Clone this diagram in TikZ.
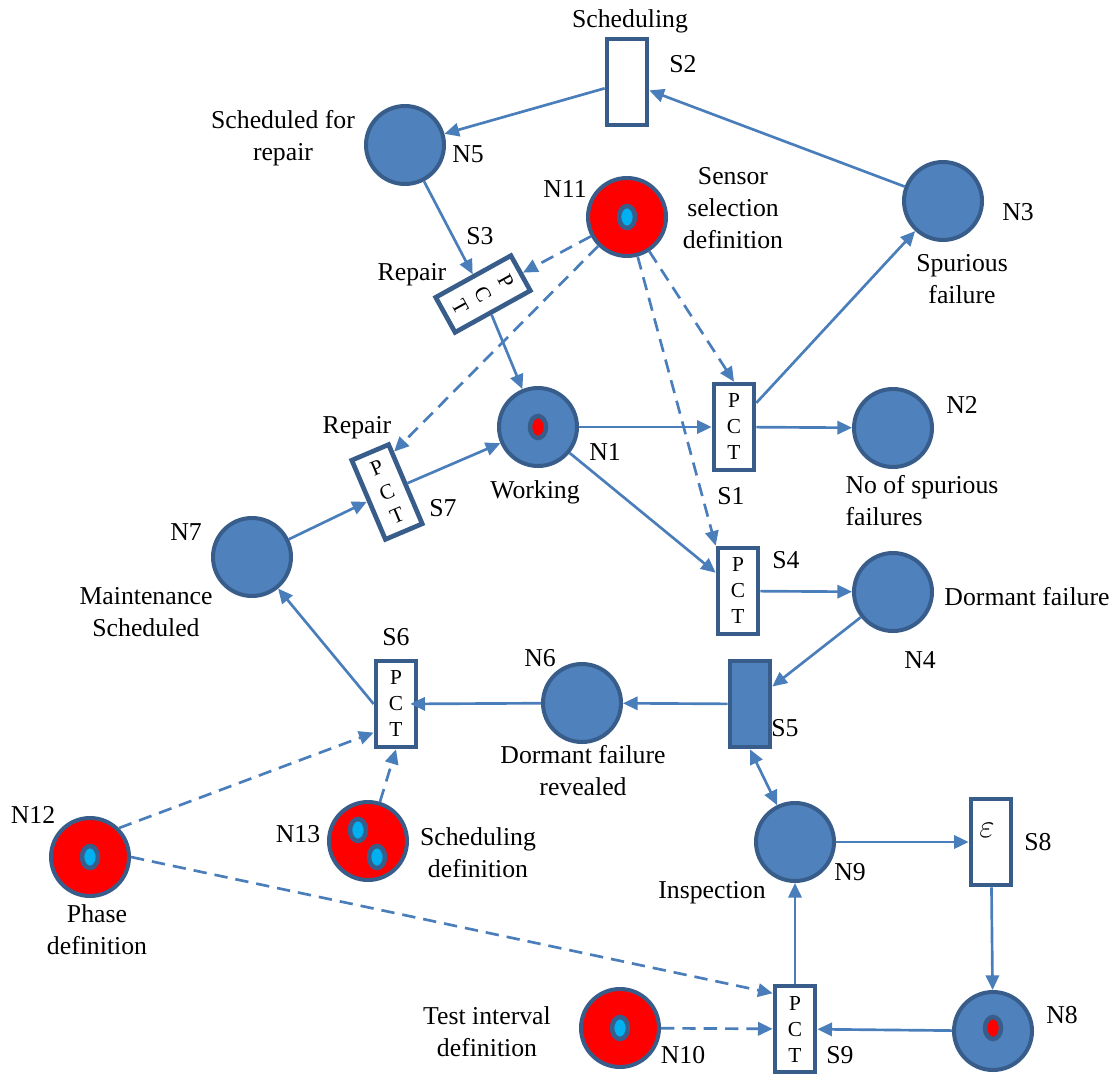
\documentclass[tikz,border=0pt]{standalone}
\usepackage{fontspec}
\setmainfont{Liberation Serif}
\usetikzlibrary{arrows.meta}

\definecolor{placefill}{RGB}{79,129,189}
\definecolor{placeline}{RGB}{56,93,138}
\definecolor{arccol}{RGB}{74,126,187}
\definecolor{tokcyan}{RGB}{0,176,240}

\tikzset{every picture/.style={line width=0.75pt},
  place/.style={circle, draw=placeline, fill=placefill, line width=3pt, minimum size=58.5pt, inner sep=0pt},
  defplace/.style={place, fill=red},
  trans/.style={rectangle, draw=placeline, fill=white, line width=3.5pt, minimum width=30pt, minimum height=64.5pt, inner sep=0pt, font=\fontsize{16}{19.5}\selectfont, align=center},
  tok/.style={draw=placeline, line width=3.4pt},
  arc/.style={draw=arccol, line width=2pt, -{Triangle[length=11pt,width=10pt]}},
  dasharc/.style={arc, dash pattern=on 10pt off 6pt},
  lbl/.style={font=\fontsize{19.3}{24}\selectfont, align=center, inner sep=0pt}}

\begin{document}
\begin{tikzpicture}[x=0.75pt,y=0.75pt,yscale=-1,xscale=1]
        \path[use as bounding box] (0,0) rectangle (1116,1074);

        %Places
        \node[place] (n1) at (538,427) {};
        \node[place] (n2) at (893,428) {};
        \node[place] (n3) at (943,201) {};
        \node[place] (n4) at (893,592) {};
        \node[place] (n5) at (405,145) {};
        \node[place] (n6) at (582,703) {};
        \node[place] (n7) at (252,557) {};
        \node[place] (n8) at (993,1031) {};
        \node[place] (n9) at (795,842) {};
        \node[defplace] (n10) at (620,1028) {};
        \node[defplace] (n11) at (627,217) {};
        \node[defplace] (n12) at (90,857) {};
        \node[defplace] (n13) at (368,841) {};

        %Tokens
        \draw[tok, fill=red] (538,427) ellipse [x radius=8, y radius=11];
        \draw[tok, fill=red] (993,1028) ellipse [x radius=8, y radius=11];
        \draw[tok, fill=tokcyan] (627,217) ellipse [x radius=8, y radius=11];
        \draw[tok, fill=tokcyan] (620,1028) ellipse [x radius=8, y radius=11];
        \draw[tok, fill=tokcyan] (90,857) ellipse [x radius=8, y radius=11];
        \draw[tok, fill=tokcyan] (358,830) ellipse [x radius=8, y radius=11];
        \draw[tok, fill=tokcyan] (377,857) ellipse [x radius=8, y radius=11];

        %Transitions
        \node[trans] (s1) at (734,427) {P\\C\\T};
        \node[trans] (s2) at (627,82) {};
        \node[trans, rotate=-61] (s3) at (483,294) {P\\C\\T};
        \node[trans] (s4) at (738,591) {P\\C\\T};
        \node[trans, fill=placefill] (s5) at (750,704) {};
        \node[trans] (s6) at (396,704) {P\\C\\T};
        \node[trans, rotate=23] (s7) at (387,492) {P\\C\\T};
        \node[trans] (s8) at (991,842) {};
        \node[trans] (s9) at (795,1029) {P\\C\\T};
        \node[inner sep=0pt, font=\fontsize{25}{25}\selectfont] (s8eps) at (987,830) {$\varepsilon$};

        %Arcs
        \draw[arc] (s2) -- (n5);
        \draw[arc] (n3) -- (s2);
        \draw[arc] (n5) -- (s3);
        \draw[arc] (s3) -- (n1);
        \draw[arc] (n1) -- (s1);
        \draw[arc] (s1) -- (n3);
        \draw[arc] (s1) -- (n2);
        \draw[arc] (n1) -- (s4);
        \draw[arc] (s4) -- (n4);
        \draw[arc] (n4) -- (s5);
        \draw[arc] (s5) -- (n6);
        \draw[arc, shorten >=-6pt] (n6) -- (s6);
        \draw[arc] (s6.west) -- (n7);
        \draw[arc] (n7) -- (s7);
        \draw[arc] (s7) -- (n1);
        \draw[arc, {Triangle[length=11pt,width=10pt]}-{Triangle[length=11pt,width=10pt]}] (s5.south) -- (n9);
        \draw[arc] (n9) -- (s8);
        \draw[arc] (s8) -- (n8);
        \draw[arc] (n8) -- (s9);
        \draw[arc] (s9) -- (n9);

        %Dashed arcs
        \draw[dasharc] (n11) -- (s3);
        \draw[dasharc] (n11) -- (s7.57);
        \draw[dasharc] (n11) -- (s1.north);
        \draw[dasharc] (n11) -- (s4.north west);
        \draw[dasharc] (n12.45) -- (s6.232);
        \draw[dasharc] (n12.east) -- (s9.122);
        \draw[dasharc] (n13) -- (s6.south);
        \draw[dasharc] (n10) -- (s9);

        %Labels
        \node[lbl] (lsched) at (630,21) {Scheduling};
        \node[lbl] (ls2) at (683,64) {S2};
        \node[lbl] (ln5txt) at (283,138) {Scheduled for\\repair};
        \node[lbl] (ln5) at (468,154) {N5};
        \node[lbl] (ln11) at (565,189) {N11};
        \node[lbl] (ln11txt) at (733,208) {Sensor\\selection\\definition};
        \node[lbl] (ln3) at (1018,212) {N3};
        \node[lbl] (ln3txt) at (962,279) {Spurious\\failure};
        \node[lbl] (ls3) at (480,236) {S3};
        \node[lbl] (ls3txt) at (412,275) {Repair};
        \node[lbl] (ls7txt) at (357,428) {Repair};
        \node[lbl] (ls7) at (443,508) {S7};
        \node[lbl] (ln1) at (605,452) {N1};
        \node[lbl] (ln1txt) at (535,492) {Working};
        \node[lbl] (ls1) at (731,496) {S1};
        \node[lbl] (ln2) at (962,405) {N2};
        \node[lbl, anchor=west, align=left] (ln2txt) at (845,501) {No of spurious\\failures};
        \node[lbl] (ln7) at (186,532) {N7};
        \node[lbl] (ln7txt) at (146,612) {Maintenance\\Scheduled};
        \node[lbl] (ls4) at (786,560) {S4};
        \node[lbl] (ln4txt) at (1027,597) {Dormant failure};
        \node[lbl] (ln4) at (920,660) {N4};
        \node[lbl] (ls6) at (396,637) {S6};
        \node[lbl] (ln6) at (540,658) {N6};
        \node[lbl] (ls5) at (785,728) {S5};
        \node[lbl] (ln6txt) at (583,771) {Dormant failure\\revealed};
        \node[lbl] (ln12) at (33,815) {N12};
        \node[lbl] (ln13) at (298,834) {N13};
        \node[lbl] (ln13txt) at (478,853) {Scheduling\\definition};
        \node[lbl] (ln12txt) at (97,930) {Phase\\definition};
        \node[lbl] (ln9) at (850,872) {N9};
        \node[lbl] (ln9txt) at (712,893) {Inspection};
        \node[lbl] (ls8) at (1038,842) {S8};
        \node[lbl] (ln10txt) at (487,1032) {Test interval\\definition};
        \node[lbl] (ln10) at (683,1055) {N10};
        \node[lbl] (ls9) at (840,1055) {S9};
        \node[lbl] (ln8) at (1062,1015) {N8};
\end{tikzpicture}
\end{document}
